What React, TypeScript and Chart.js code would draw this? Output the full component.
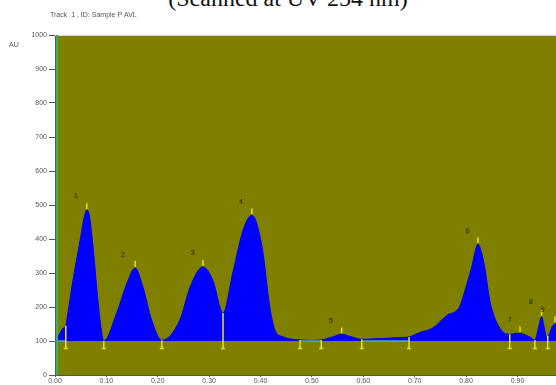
import React, { useEffect, useRef } from "react";
import { Chart, registerables } from "chart.js";

Chart.register(...registerables);

// Densitometric scan of track 1 (Rf vs. absorbance units)
const rf = [
  0.0, 0.008, 0.016, 0.021, 0.023, 0.035, 0.049, 0.057, 0.062, 0.067, 0.074, 0.084, 0.091, 0.095,
  0.12, 0.14, 0.156, 0.171, 0.188, 0.208,
  0.243, 0.263, 0.288, 0.307, 0.327,
  0.346, 0.366, 0.383, 0.403, 0.418, 0.428, 0.444, 0.477,
  0.5, 0.518, 0.54, 0.558, 0.575, 0.597, 0.63, 0.67, 0.689,
  0.71, 0.735, 0.755, 0.765, 0.778, 0.787, 0.794, 0.803, 0.811, 0.818, 0.823, 0.83, 0.837, 0.846,
  0.853, 0.86, 0.872, 0.885, 0.895, 0.905, 0.915, 0.924, 0.934, 0.941, 0.947, 0.952, 0.957, 0.962,
  0.967, 0.975,
];
const au = [
  100, 118, 138, 145, 162, 279, 397, 465, 485, 468, 377, 212, 124, 100,
  182, 270, 315, 259, 162, 102,
  162, 259, 318, 279, 182,
  300, 426, 470, 376, 200, 132, 112, 103,
  102, 103, 112, 120, 113, 105, 107, 110, 112,
  125, 138, 165, 178, 185, 200, 229, 275, 318, 365, 385, 360, 309, 220,
  180, 153, 126, 120, 122, 123, 118, 112, 103, 140, 171, 140, 109, 120,
  141, 152,
];

// Peak numbering
const peakNames = ["1", "2", "3", "4", "5", "6", "7", "8", "9"];
const peakRf = [0.062, 0.156, 0.288, 0.383, 0.558, 0.823, 0.905, 0.947, 0.973];
const peakAu = [485, 315, 318, 470, 120, 385, 123, 171, 152];
const labelRf = [0.041, 0.132, 0.268, 0.362, 0.537, 0.803, 0.885, 0.926, 0.949];
const labelAu = [526, 353, 359, 509, 159, 424, 162, 215, 190];

// Integration boundaries (start/end of each peak)
const boundRf = [0.021, 0.095, 0.208, 0.327, 0.477, 0.518, 0.597, 0.689, 0.885, 0.934, 0.959];
const boundAu = [145, 100, 102, 182, 103, 103, 105, 112, 120, 103, 115];

// Baseline segments drawn where the scan sits on the baseline
const baseFrom = [0.0, 0.477, 0.597];
const baseTo = [0.021, 0.518, 0.689];

const BASELINE = 100;
const yTicks = [0, 100, 200, 300, 400, 500, 600, 700, 800, 900, 1000];
const xTicks = [0, 0.1, 0.2, 0.3, 0.4, 0.5, 0.6, 0.7, 0.8, 0.9];

export default function App() {
  const ref = useRef<HTMLCanvasElement>(null);

  useEffect(() => {
    if (!ref.current) return;

    const trace = rf.map((x, i) => ({ x, y: au[i] }));

    const peakMarks: any[] = [];
    peakRf.forEach((x, i) => {
      peakMarks.push({ x, y: peakAu[i] + 3 }, { x, y: peakAu[i] + 20 }, { x: null, y: null });
    });

    const boundMarks: any[] = [];
    boundRf.forEach((x, i) => {
      boundMarks.push(
        { x, y: boundAu[i] },
        { x, y: 78 },
        { x: null, y: null },
        { x: x - 0.004, y: 78 },
        { x: x + 0.004, y: 78 },
        { x: null, y: null }
      );
    });

    const baseSegs: any[] = [];
    baseFrom.forEach((x, i) => {
      baseSegs.push({ x, y: BASELINE }, { x: baseTo[i], y: BASELINE }, { x: null, y: null });
    });

    const plotFrame = {
      id: "plotFrame",
      beforeDraw(chart: any) {
        const { ctx, chartArea: a } = chart;
        ctx.save();
        ctx.fillStyle = "#808000";
        ctx.fillRect(a.left, a.top, a.right - a.left, a.bottom - a.top);
        ctx.restore();
      },
      afterDatasetsDraw(chart: any) {
        const { ctx, chartArea: a, scales } = chart;
        const xs = scales.x;
        const ys = scales.y;
        ctx.save();
        // top frame line
        ctx.strokeStyle = "#d8d8c8";
        ctx.lineWidth = 1;
        ctx.beginPath();
        ctx.moveTo(a.left, a.top + 0.5);
        ctx.lineTo(a.right, a.top + 0.5);
        ctx.stroke();
        // green marker along the start line
        ctx.strokeStyle = "#35b35a";
        ctx.lineWidth = 2;
        ctx.beginPath();
        ctx.moveTo(a.left + 2, a.top);
        ctx.lineTo(a.left + 2, a.bottom);
        ctx.stroke();
        // peak numbers
        ctx.fillStyle = "#1a1a10";
        ctx.font = "7px 'Liberation Sans', Arial, sans-serif";
        ctx.textAlign = "center";
        ctx.textBaseline = "middle";
        peakNames.forEach((t, i) => {
          ctx.fillText(t, xs.getPixelForValue(labelRf[i]), ys.getPixelForValue(labelAu[i]));
        });
        // axis captions
        ctx.fillStyle = "#555";
        ctx.textAlign = "left";
        ctx.textBaseline = "middle";
        ctx.fillText("AU", 9, 45);
        ctx.fillText("Track  1 , ID: Sample P AVL", 50, 15);
        ctx.restore();
      },
    };

    const chart = new Chart(ref.current, {
      type: "line",
      data: {
        datasets: [
          {
            data: trace,
            borderColor: "#0000f0",
            backgroundColor: "#0000ff",
            borderWidth: 1,
            pointRadius: 0,
            fill: { value: BASELINE },
            cubicInterpolationMode: "monotone",
            order: 3,
          },
          {
            data: baseSegs,
            borderColor: "#4fb0a0",
            borderWidth: 1.5,
            pointRadius: 0,
            fill: false,
            spanGaps: false,
            order: 2,
          },
          {
            data: boundMarks,
            borderColor: "#e8e020",
            borderWidth: 1.5,
            pointRadius: 0,
            fill: false,
            spanGaps: false,
            order: 1,
          },
          {
            data: peakMarks,
            borderColor: "#e8e020",
            borderWidth: 1.5,
            pointRadius: 0,
            fill: false,
            spanGaps: false,
            order: 1,
          },
        ],
      },
      options: {
        animation: false,
        responsive: false,
        maintainAspectRatio: false,
        layout: { padding: { top: 35, left: 0, right: 0, bottom: 0 } },
        plugins: { legend: { display: false }, tooltip: { enabled: false }, title: { display: false } },
        scales: {
          x: {
            type: "linear",
            min: 0,
            max: 0.975,
            afterBuildTicks: (s: any) => {
              s.ticks = xTicks.map((v) => ({ value: v }));
            },
            afterFit: (s: any) => {
              s.height = 10;
            },
            ticks: {
              color: "#555",
              font: { size: 7, family: "'Liberation Sans', Arial, sans-serif" },
              padding: 0,
              maxRotation: 0,
              autoSkip: false,
              callback: (v: any) => Number(v).toFixed(2),
            },
            grid: { drawOnChartArea: false, drawTicks: true, tickLength: 2, color: "#555" },
            border: { color: "#555" },
          },
          y: {
            type: "linear",
            min: 0,
            max: 1000,
            afterBuildTicks: (s: any) => {
              s.ticks = yTicks.map((v) => ({ value: v }));
            },
            afterFit: (s: any) => {
              s.width = 55;
            },
            ticks: {
              color: "#555",
              font: { size: 7, family: "'Liberation Sans', Arial, sans-serif" },
              padding: 2,
              autoSkip: false,
              callback: (v: any) => String(v),
            },
            grid: { drawOnChartArea: false, drawTicks: true, tickLength: 6, color: "#555" },
            border: { color: "#555" },
          },
        },
      },
      plugins: [plotFrame],
    });

    return () => chart.destroy();
  }, []);

  return (
    <div style={{ position: "absolute", left: 0, top: 0, width: 556, height: 385, overflow: "hidden", background: "#fff" }}>
      <div
        style={{
          position: "absolute",
          left: 10,
          width: 556,
          top: -14,
          textAlign: "center",
          fontFamily: "'Liberation Serif', serif",
          fontSize: 24,
          lineHeight: "24px",
          color: "#111",
        }}
      >
        (Scanned at UV 254 nm)
      </div>
      <canvas ref={ref} width={556} height={385} style={{ position: "absolute", left: 0, top: 0 }} />
    </div>
  );
}
